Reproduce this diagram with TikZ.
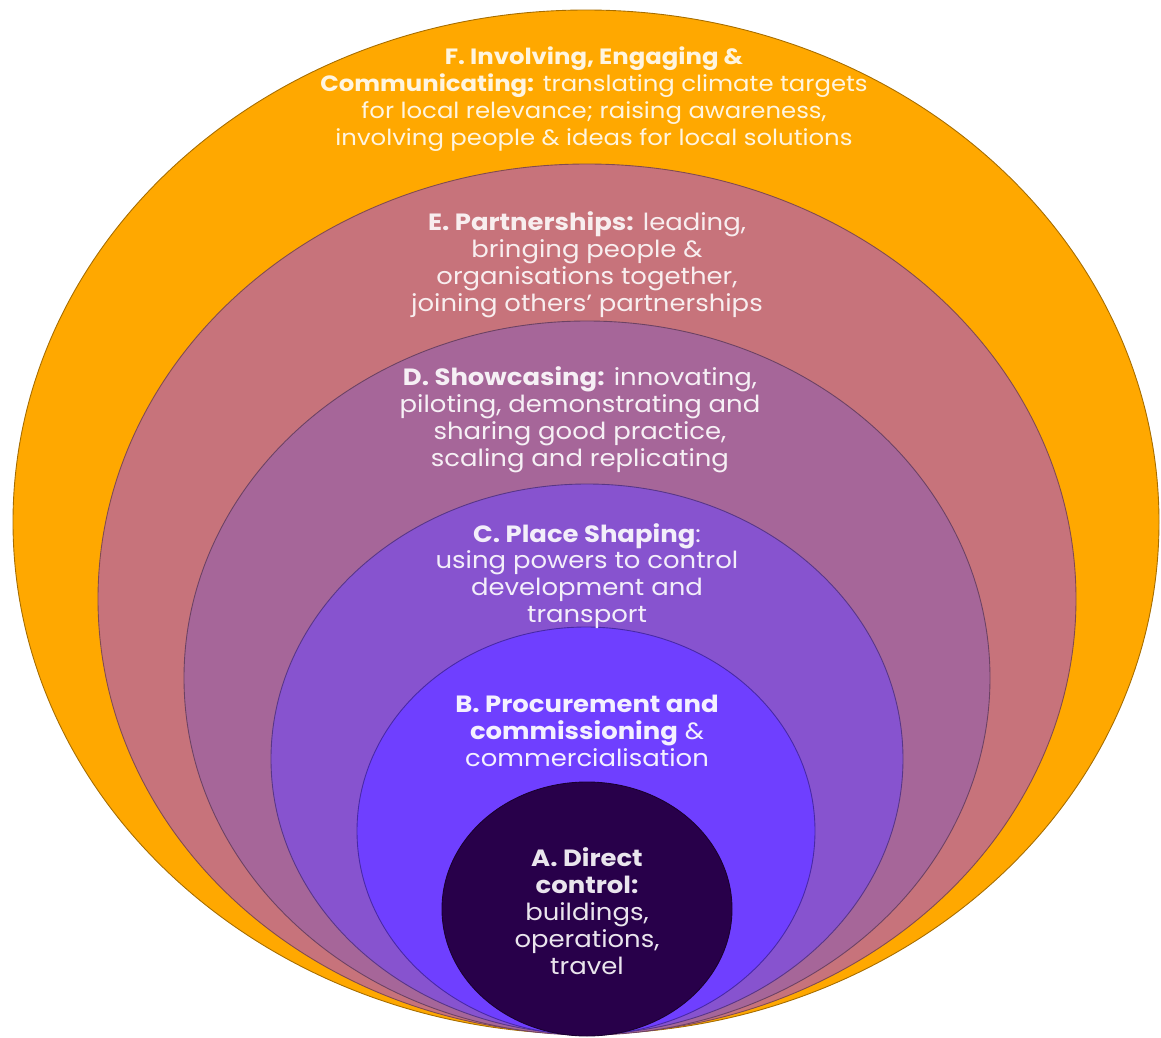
\documentclass[tikz,border=0pt]{standalone}
\usepackage{fontspec}
\setmainfont{Poppins}[FakeStretch=1.1]
\definecolor{orangeF}{HTML}{FFA800}
\definecolor{roseE}{HTML}{C7737B}
\definecolor{mauveD}{HTML}{A66699}
\definecolor{violetC}{HTML}{8753CF}
\definecolor{blueB}{HTML}{6F3FFF}
\definecolor{inkA}{HTML}{28004A}
\tikzset{
	ring/.style={fill=#1,draw=#1!65!black,line width=0.5pt},
	txt/.style={align=center,font=\fontsize{13.4}{15.3}\selectfont,text=#1}
}
\begin{document}
\begin{tikzpicture}[x=0.02cm,y=-0.02cm,line join=round]
	\useasboundingbox (0,0) rectangle (1161,1038);
	\path
	(586,522)coordinate(F)
	(587,599)coordinate(E)
	(587,678)coordinate(D)
	(587,759)coordinate(C)
	(586,831)coordinate(B)
	(587,909)coordinate(A)
	;
	\draw[ring=orangeF](F) ellipse[x radius=573,y radius=512];
	\draw[ring=roseE](E) ellipse[x radius=489,y radius=435];
	\draw[ring=mauveD](D) ellipse[x radius=403,y radius=357];
	\draw[ring=violetC](C) ellipse[x radius=316,y radius=275];
	\draw[ring=blueB](B) ellipse[x radius=229,y radius=204];
	\draw[ring=inkA](A) ellipse[x radius=145,y radius=127];
	\path
	(594,99)node[txt=orangeF!12!white,font=\fontsize{12.6}{15.3}\selectfont](tF){\textbf{F. Involving, Engaging \&}\\
		\textbf{Communicating:} translating climate targets\\
		for local relevance; raising awareness,\\
		involving people \& ideas for local solutions}
	(587,265)node[txt=roseE!12!white](tE){\textbf{E. Partnerships:} leading,\\
		bringing people \&\\
		organisations together,\\
		joining others’ partnerships}
	(580,420)node[txt=mauveD!10!white](tD){\textbf{D. Showcasing:} innovating,\\
		piloting, demonstrating and\\
		sharing good practice,\\
		scaling and replicating}
	(587,576)node[txt=violetC!10!white](tC){\textbf{C. Place Shaping}:\\
		using powers to control\\
		development and\\
		transport}
	(587,731)node[txt=blueB!8!white](tB){\textbf{B. Procurement and}\\
		\textbf{commissioning} \&\\
		commercialisation}
	(587,911)node[txt=inkA!10!white](tA){\textbf{A. Direct}\\
		\textbf{control:}\\
		buildings,\\
		operations,\\
		travel}
	;
\end{tikzpicture}
\end{document}
